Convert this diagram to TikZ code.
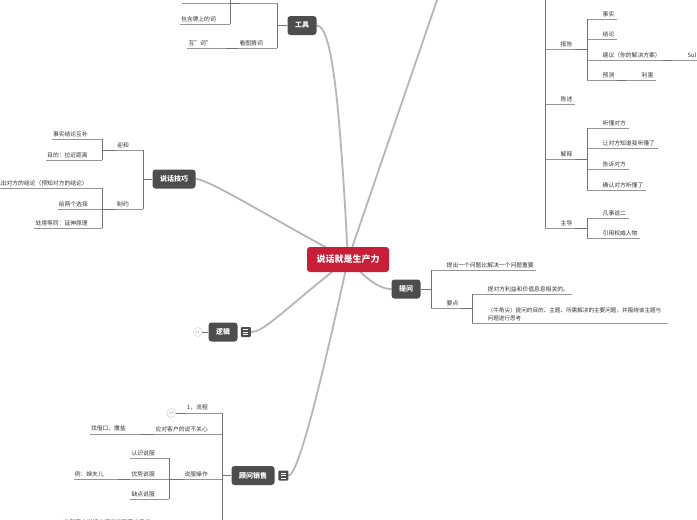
\documentclass[tikz,border=0pt]{standalone}
\usepackage{fontspec}
\setmainfont{Noto Sans CJK SC}
\usepackage{xcolor}
\usetikzlibrary{positioning,backgrounds}

\definecolor{rootred}{RGB}{200,30,55}
\definecolor{topicgray}{RGB}{77,77,77}
\definecolor{trunkgray}{RGB}{182,182,182}
\definecolor{linegray}{RGB}{150,150,150}
\definecolor{spinegray}{RGB}{115,115,115}

\tikzset{
    root/.style={fill=rootred, text=white, rounded corners=3pt, minimum width=82pt, minimum height=25pt, inner sep=0pt, font=\fontsize{9}{10}\selectfont\bfseries},
    topic/.style={fill=topicgray, text=white, rounded corners=3pt, minimum height=19pt, inner xsep=7.5pt, inner ysep=0pt, font=\fontsize{7}{8}\selectfont\bfseries},
    uline/.style={draw=linegray, line width=0.6pt},
    rleaf/.style={anchor=south west, text=black!80, font=\fontsize{5.8}{8}\selectfont, inner xsep=0.5pt, inner ysep=2.2pt,
        execute at begin node={\hspace*{15pt}}, execute at end node={\hspace{2pt}},
        append after command={(\tikzlastnode.south west) edge[uline] (\tikzlastnode.south east)}},
    lleaf/.style={anchor=south east, text=black!80, font=\fontsize{5.8}{8}\selectfont, inner xsep=1pt, inner ysep=2.2pt,
        execute at end node={\hspace{13pt}},
        append after command={(\tikzlastnode.south west) edge[uline] (\tikzlastnode.south east)}},
    branch/.style={draw=spinegray, line width=0.7pt},
    trunk/.style={draw=trunkgray, line width=1.8pt, line cap=round},
    fold/.style={circle, draw=gray!45, text=gray!70, fill=white, font=\fontsize{4}{4}\selectfont, inner sep=0pt, minimum size=9pt},
    menu/.style={fill=topicgray, text=white, rounded corners=1pt, minimum size=10pt, inner sep=0pt, align=center, font=\fontsize{2.4}{2.4}\selectfont},
}

\begin{document}
\begin{tikzpicture}[x=1pt,y=-1pt]
    \path[use as bounding box] (0,0) rectangle (697,520);
    \clip (0,0) rectangle (697,520);

    % Central topic
    \node[root] (root) at (348,259.5) {说话就是生产力};

    % Main topics
    \node[topic] (gongju) at (302,25.5) {工具};
    \node[topic] (jiqiao) at (174,179) {说话技巧};
    \node[topic] (luoji) at (223,332) {逻辑};
    \node[topic] (guwen) at (253,475.5) {顾问销售};
    \node[topic] (tiwen) at (406,289) {提问};
    \node[fold, left=6pt of luoji] (fold11) {11};
    \node[menu, right=3pt of luoji] (luojimenu) {\rule{5pt}{0.7pt}\\\rule{5pt}{0.7pt}\\\rule{5pt}{0.7pt}};
    \node[menu, right=3.5pt of guwen] (guwenmenu) {\rule{5pt}{0.7pt}\\\rule{5pt}{0.7pt}\\\rule{5pt}{0.7pt}};
    \coordinate (toptrunk) at (440.5,-10);

    % Trunks from the centre
    \begin{scope}[on background layer]
        \draw[trunk] (gongju.east) .. controls +(16,0) and +(-8,-150) .. (root.center);
        \draw[trunk] (root.center) -- (toptrunk);
        \draw[trunk] (jiqiao.east) .. controls +(12,0) and +(-90,-49) .. (root.center);
        \draw[trunk] (luojimenu.east) .. controls +(14,0) and +(-60,46) .. (root.center);
        \draw[trunk] (guwenmenu.east) .. controls +(10,0) and +(-25,115) .. (root.center);
        \draw[trunk] (root.center) .. controls +(12,12) and +(-16,0) .. (tiwen.west);
    \end{scope}
    \draw[branch] (fold11) -- (luoji);

    % Tools
    \node[lleaf, minimum width=37pt] (gjA) at (277,3) {};
    \node[lleaf, minimum width=48pt] (gjB) at (230,3) {};
    \coordinate (gjup) at (230,-8);
    \node[lleaf] (baohan) at (230,24) {包含牌上的词};
    \node[lleaf] (kantu) at (277,48) {看图猜词};
    \node[lleaf] (hu) at (226,48) {互"词"};
    \draw[branch] (gongju.west) -| (gjA.south east);
    \draw[branch] (gongju.west) -| (kantu.south east);
    \draw[branch] (gjA.south west) -| (gjup);
    \draw[branch] (gjA.south west) -| (baohan.south east);
    \draw[branch] (kantu.south west) -| (hu.south east);

    % Speaking skills
    \node[lleaf] (yinghe) at (143,150) {迎和};
    \node[lleaf] (shishi) at (102,139) {事实结论互补};
    \node[lleaf] (mudi) at (102,160) {目的：拉近距离};
    \node[lleaf] (zhiyue) at (143,209) {制约};
    \node[lleaf] (shuochu) at (102,188) {说出对方的结论（预知对方的结论）};
    \node[lleaf] (liangge) at (102,209) {给两个选择};
    \node[lleaf] (chujing) at (102,228) {处境等同：延伸原理};
    \draw[branch] (jiqiao.west) -| (yinghe.south east);
    \draw[branch] (jiqiao.west) -| (zhiyue.south east);
    \draw[branch] (yinghe.south west) -| (shishi.south east);
    \draw[branch] (yinghe.south west) -| (mudi.south east);
    \draw[branch] (zhiyue.south west) -| (shuochu.south east);
    \draw[branch] (zhiyue.south west) -| (liangge.south east);
    \draw[branch] (zhiyue.south west) -| (chujing.south east);

    % Consultative selling
    \node[lleaf] (liucheng) at (222,413) {1，流程};
    \node[fold, left=10pt of liucheng.south west] (fold14) {14};
    \node[lleaf] (yingdui) at (222,434) {应对客户的说不关心};
    \node[lleaf] (zhaojiekou) at (140,434) {找借口，撒盐};
    \node[lleaf] (shuofu) at (222,479) {说服操作};
    \node[lleaf] (renshi) at (169,458) {认识说服};
    \node[lleaf] (youshi) at (169,479) {优势说服};
    \node[lleaf] (quedian) at (169,499) {缺点说服};
    \node[lleaf] (lizi) at (118,479) {例：婶夫儿};
    \node[lleaf, execute at end node={\hspace{57pt}}] (xuqiu) at (222,527) {1. 从和客户说话中逐步找到客户需求};
    \draw[branch] (fold14) -- (liucheng.south west);
    \draw[branch] (guwen.west) -| (liucheng.south east);
    \draw[branch] (guwen.west) -| (xuqiu.south east);
    \draw[branch] (yingdui.south west) -| (zhaojiekou.south east);
    \draw[branch] (shuofu.south west) -| (renshi.south east);
    \draw[branch] (shuofu.south west) -| (quedian.south east);
    \draw[branch] (youshi.south west) -| (lizi.south east);

    % Asking
    \node[rleaf] (tichu) at (431,270) {提出一个问题比解决一个问题重要};
    \node[rleaf] (yaodian) at (431,308) {要点};
    \node[rleaf] (liyi) at (472,294) {提对方利益和价值息息相关的。};
    \node[rleaf, font=\fontsize{5.6}{8}\selectfont, text width=195pt, align=left] (niujiao) at (472,323)
        {（牛角尖）提问的目的、主题、所需解决的主要问题，并围绕该主题与\\\hspace*{15pt}问题进行思考};
    \draw[branch] (tiwen.east) -| (tichu.south west);
    \draw[branch] (tiwen.east) -| (yaodian.south west);
    \draw[branch] (yaodian.south east) -| (liyi.south west);
    \draw[branch] (yaodian.south east) -| (niujiao.south west);

    % Report tree (parent above the page)
    \coordinate (rtop) at (545,-8);
    \node[rleaf] (baogao) at (545,49) {报告};
    \node[rleaf] (shishi2) at (587,19) {事实};
    \node[rleaf] (jielun) at (587,39) {结论};
    \node[rleaf] (jianyi) at (587,60) {建议（你的解决方案）};
    \node[rleaf] (sul) at (672,60) {Sul};
    \node[rleaf] (yuce) at (587,80) {预测};
    \node[rleaf] (lihai) at (626,80) {利害};
    \node[rleaf] (chenshu) at (545,104) {陈述};
    \node[rleaf] (jieshi) at (545,159) {解释};
    \node[rleaf] (tingdong) at (587,128) {听懂对方};
    \node[rleaf] (rang) at (587,148) {让对方知道我听懂了};
    \node[rleaf] (gaosu) at (587,169) {告诉对方};
    \node[rleaf] (queren) at (587,190) {确认对方听懂了};
    \node[rleaf] (zhudao) at (545,228) {主导};
    \node[rleaf] (fanshi) at (587,218) {凡事说二};
    \node[rleaf] (yinyong) at (587,238) {引用权威人物};
    \draw[branch] (rtop) |- (zhudao.south west);
    \draw[branch] (baogao.south east) -| (shishi2.south west);
    \draw[branch] (baogao.south east) -| (yuce.south west);
    \draw[branch] (jianyi.south east) -- (sul.south west);
    \draw[branch] (yuce.south east) -- (lihai.south west);
    \draw[branch] (jieshi.south east) -| (tingdong.south west);
    \draw[branch] (jieshi.south east) -| (queren.south west);
    \draw[branch] (zhudao.south east) -| (fanshi.south west);
    \draw[branch] (zhudao.south east) -| (yinyong.south west);
\end{tikzpicture}
\end{document}
